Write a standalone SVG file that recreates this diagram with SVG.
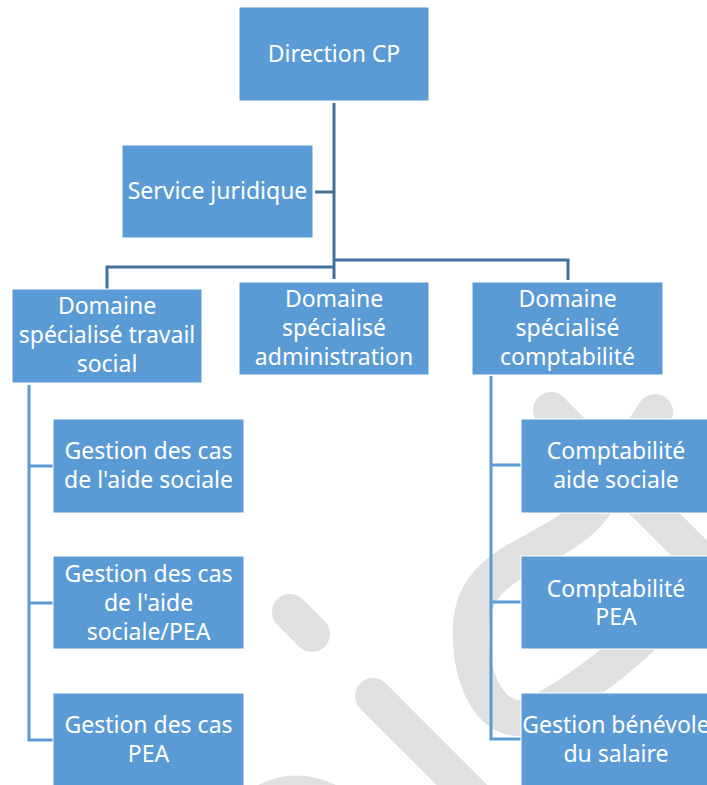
<svg xmlns="http://www.w3.org/2000/svg" width="707" height="785" viewBox="0 0 707 785">
  <style>
    .box { fill: #5B9BD5; stroke: #ffffff; stroke-width: 1; }
    .lbl { font-family: "Noto Sans", "Open Sans", sans-serif; font-size: 23px; fill: #ffffff; text-anchor: middle; }
    .c1 { fill: none; stroke: #41719C; stroke-width: 3; }
    .c2 { fill: none; stroke: #5B9BD5; stroke-width: 3; }
    .wm { fill: none; stroke: #E0E0E0; stroke-width: 36; stroke-linecap: round; stroke-linejoin: round; }
  </style>
  <rect x="0" y="0" width="707" height="785" fill="#ffffff"/>
  <g id="watermark">
    <path class="wm" d="M551,410 L780,639"/>
    <path class="wm" d="M655,412 L595,505 C560,555 475,555 471,625 C468,690 500,735 540,712 C575,693 610,668 650,630"/>
    <path class="wm" d="M290,612 L312,634" stroke-width="40"/>
    <path class="wm" d="M373,696 L480,803"/>
    <path d="M258,785 Q296,766 336,785 Z" fill="#E0E0E0"/>
  </g>
  <g id="connectors">
    <path class="c1" d="M334,103 V279"/>
    <path class="c1" d="M315,192 H334"/>
    <path class="c1" d="M334,260 H568 V280"/>
    <path class="c1" d="M334,267 H107 V289"/>
    <path class="c2" d="M29,385 V740 H53"/>
    <path class="c2" d="M29,466 H53 M29,603 H53"/>
    <path class="c2" d="M491,376 V739 H521"/>
    <path class="c2" d="M491,465 H521 M491,602 H521"/>
  </g>
  <g id="direction-cp">
    <rect class="box" x="239" y="7" width="190" height="94"/>
    <text class="lbl" x="334" y="62">Direction CP</text>
  </g>
  <g id="service-juridique">
    <rect class="box" x="122" y="145" width="191" height="93"/>
    <text class="lbl" x="217.5" y="199">Service juridique</text>
  </g>
  <g id="domaine-travail-social">
    <rect class="box" x="12" y="289" width="190" height="94"/>
    <text class="lbl"><tspan x="107" y="314">Domaine</tspan><tspan x="107" y="343">spécialisé travail</tspan><tspan x="107" y="372">social</tspan></text>
  </g>
  <g id="domaine-administration">
    <rect class="box" x="239" y="282" width="190" height="93"/>
    <text class="lbl"><tspan x="334" y="307">Domaine</tspan><tspan x="334" y="336">spécialisé</tspan><tspan x="334" y="365">administration</tspan></text>
  </g>
  <g id="domaine-comptabilite">
    <rect class="box" x="472" y="282" width="191" height="93"/>
    <text class="lbl"><tspan x="567.5" y="307">Domaine</tspan><tspan x="567.5" y="336">spécialisé</tspan><tspan x="567.5" y="365">comptabilité</tspan></text>
  </g>
  <g id="gestion-cas-aide-sociale">
    <rect class="box" x="53" y="419" width="191" height="94"/>
    <text class="lbl"><tspan x="148.5" y="459">Gestion des cas</tspan><tspan x="148.5" y="488">de l'aide sociale</tspan></text>
  </g>
  <g id="gestion-cas-aide-sociale-pea">
    <rect class="box" x="53" y="556" width="191" height="93"/>
    <text class="lbl"><tspan x="148.5" y="582">Gestion des cas</tspan><tspan x="148.5" y="611">de l'aide</tspan><tspan x="148.5" y="640">sociale/PEA</tspan></text>
  </g>
  <g id="gestion-cas-pea">
    <rect class="box" x="53" y="693" width="191" height="94"/>
    <text class="lbl"><tspan x="148.5" y="733">Gestion des cas</tspan><tspan x="148.5" y="762">PEA</tspan></text>
  </g>
  <g id="comptabilite-aide-sociale">
    <rect class="box" x="521" y="419" width="190" height="94"/>
    <text class="lbl"><tspan x="616" y="459">Comptabilité</tspan><tspan x="616" y="488">aide sociale</tspan></text>
  </g>
  <g id="comptabilite-pea">
    <rect class="box" x="521" y="556" width="190" height="93"/>
    <text class="lbl"><tspan x="616" y="597">Comptabilité</tspan><tspan x="616" y="625">PEA</tspan></text>
  </g>
  <g id="gestion-benevole-salaire">
    <rect class="box" x="521" y="693" width="190" height="94"/>
    <text class="lbl"><tspan x="616" y="733">Gestion bénévole</tspan><tspan x="616" y="762">du salaire</tspan></text>
  </g>
</svg>
